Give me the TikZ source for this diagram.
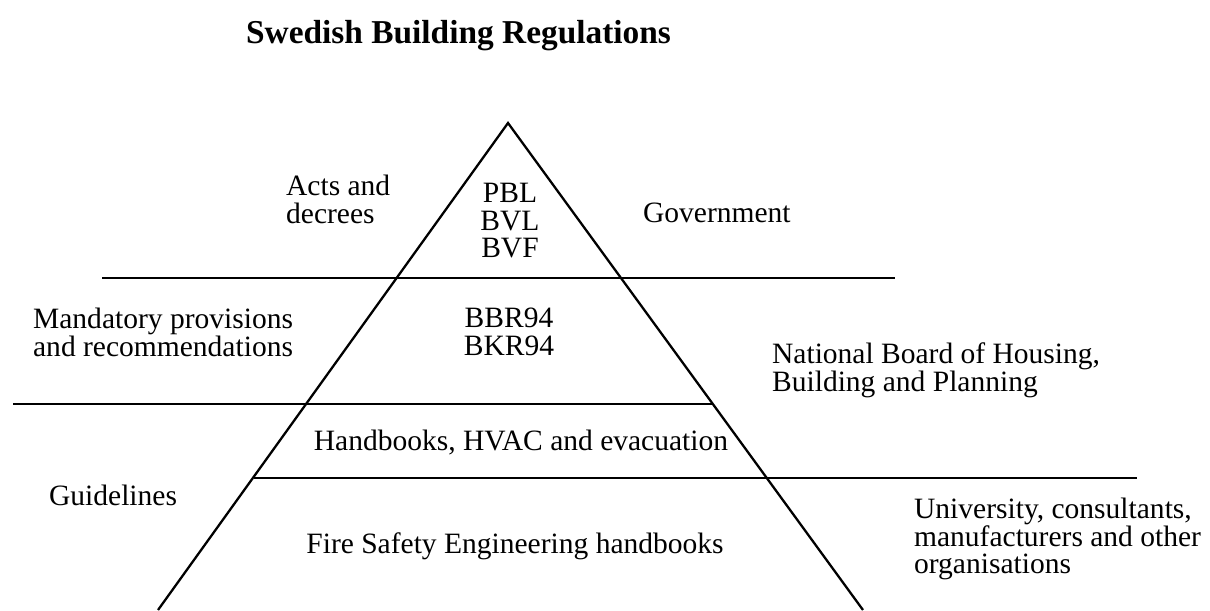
\documentclass[tikz,border=0pt]{standalone}
\usepackage{fontspec}
\setmainfont{Liberation Serif}
\begin{document}
\begin{tikzpicture}[
			x=0.02cm, y=-0.02cm,
			line width=1.3pt,
			txt/.style={inner sep=0pt, font=\fontsize{16.8}{15.7}\selectfont},
			lefttxt/.style={txt, align=left, anchor=north west},
			midtxt/.style={txt, align=center, anchor=north}
		]
		\useasboundingbox (0,0) rectangle (1210,610);
		\node[inner sep=0pt, anchor=base west, font=\fontsize{19}{22}\selectfont\bfseries] (title) at (245,43) {Swedish Building Regulations};
		% pyramid
		\coordinate (apex) at (508,123);
		\coordinate (baseleft) at (158,610);
		\coordinate (baseright) at (863,610);
		\draw (baseleft) -- (apex) -- (baseright);
		% level lines
		\coordinate (l1a) at (102,278);
		\coordinate (l1b) at (895,278);
		\coordinate (l2a) at (13,404);
		\coordinate (l2b) at (712,404);
		\coordinate (l3a) at (254,478);
		\coordinate (l3b) at (1137,478);
		\draw (l1a) -- (l1b);
		\draw (l2a) -- (l2b);
		\draw (l3a) -- (l3b);
		% inside the pyramid
		\node[midtxt] (acts) at (510,182) {PBL\\BVL\\BVF};
		\node[midtxt] (bbr) at (509,307) {BBR94\\BKR94};
		\node[txt, anchor=base] (hvac) at (521,450) {Handbooks, HVAC and evacuation};
		\node[txt, anchor=base] (fse) at (515,553) {Fire Safety Engineering handbooks};
		% left labels
		\node[lefttxt] (actslbl) at (285,174) {Acts and\\decrees};
		\node[lefttxt] (mandlbl) at (32,307) {Mandatory provisions\\and recommendations};
		\node[txt, anchor=base west] (guidelbl) at (48,505) {Guidelines};
		% right labels
		\node[txt, anchor=base west] (govlbl) at (642,222) {Government};
		\node[lefttxt] (boardlbl) at (771,342) {National Board of Housing,\\Building and Planning};
		\node[lefttxt] (unilbl) at (913,497) {University, consultants,\\manufacturers and other\\organisations};
	\end{tikzpicture}
\end{document}
